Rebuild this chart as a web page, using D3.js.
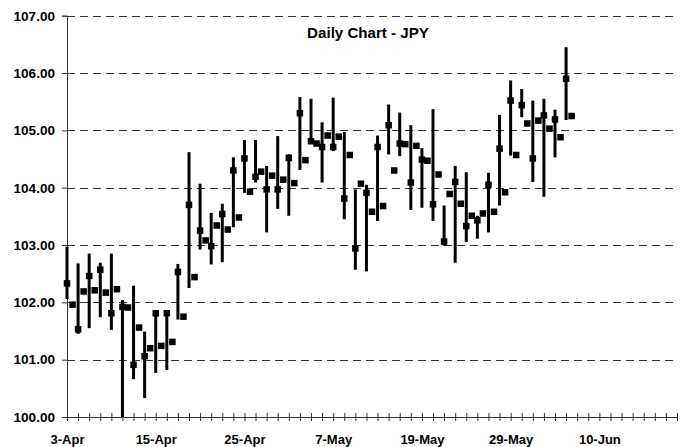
<!DOCTYPE html>
<html>
<head>
<meta charset="utf-8">
<script src="https://cdn.jsdelivr.net/npm/d3@7"></script>
<style>
  body { margin: 0; background: #fff; }
  text { font-family: "Liberation Sans", Arial, sans-serif; font-weight: bold; fill: #000; }
</style>
</head>
<body>
<script>
// trading days on the axis: 3-Apr .. 19-Jun, label every 8th day
var dayCount = 56;
var tickLabels = ['3-Apr', '15-Apr', '25-Apr', '7-May', '19-May', '29-May', '10-Jun'];
var labelEvery = 8;

var yTicks = [100, 101, 102, 103, 104, 105, 106, 107];

// daily range (bar), square on the bar, square just after the bar
var highs = [102.97, 102.68, 102.85, 102.69, 102.85, 102.04, 102.29, 101.49, 101.86, 101.85,
             102.67, 104.62, 104.07, 103.56, 103.72, 104.53, 104.83, 104.83, 104.38, 104.90,
             104.58, 105.58, 105.55, 105.14, 105.57, 104.97, 103.97, 104.05, 104.91, 105.45,
             105.31, 105.09, 104.69, 105.37, 103.69, 104.38, 104.27, 103.51, 104.26, 105.27,
             105.87, 105.72, 105.52, 105.55, 105.36, 106.45];
var lows  = [102.06, 101.45, 101.55, 101.74, 101.52, 100.00, 100.66, 100.33, 100.77, 100.82,
             101.70, 102.25, 102.92, 102.66, 102.70, 103.31, 103.91, 104.09, 103.22, 103.63,
             103.51, 104.31, 104.77, 104.09, 104.64, 103.45, 102.57, 102.54, 103.42, 104.58,
             104.55, 103.61, 103.65, 103.42, 102.99, 102.69, 103.05, 103.11, 103.22, 103.69,
             104.56, 105.23, 104.10, 103.84, 104.53, 105.18];
var opens = [102.33, 101.53, 102.46, 102.57, 101.81, 101.92, 100.91, 101.06, 101.81, 101.81,
             102.53, 103.70, 103.25, 102.98, 103.54, 104.30, 104.51, 104.19, 103.97, 103.97,
             104.52, 105.30, 104.81, 104.71, 104.71, 103.81, 102.94, 103.91, 104.71, 105.09,
             104.77, 104.09, 104.49, 103.71, 103.06, 104.10, 103.33, 103.43, 104.05, 104.68,
             105.52, 105.44, 104.51, 105.26, 105.19, 105.90];
var closes = [101.96, 102.19, 102.21, 102.17, 102.23, 101.91, 101.56, 101.20, 101.24, 101.31,
              101.75, 102.44, 103.08, 103.34, 103.27, 103.48, 103.93, 104.28, 104.21, 104.14,
              104.08, 104.48, 104.77, 104.91, 104.89, 104.57, 104.07, 103.58, 103.68, 104.30,
              104.76, 104.73, 104.47, 104.23, 103.89, 103.72, 103.51, 103.55, 103.58, 103.92,
              104.57, 105.12, 105.17, 105.03, 104.88, 105.25];

var width = 684, height = 447;
var plotLeft = 67, plotRight = 677, plotTop = 15.7, plotBottom = 417;
var sq = 6.5;
var stretch = 1.13;

var svg = d3.select('body').append('svg')
  .attr('width', width)
  .attr('height', height);

var x = d3.scaleLinear().domain([0, dayCount - 1]).range([plotLeft, plotRight]);
var y = d3.scaleLinear().domain([100, 107]).range([plotBottom, plotTop]);

var data = highs.map(function(h, i) {
  return {i: i, high: h, low: lows[i], open: opens[i], close: closes[i]};
});

// dashed gridlines
svg.append('g')
  .selectAll('line')
  .data(yTicks.filter(function(d) { return d > 100; }))
  .enter().append('line')
  .attr('x1', plotLeft).attr('x2', plotRight)
  .attr('y1', function(d) { return Math.round(y(d)) + 0.5; })
  .attr('y2', function(d) { return Math.round(y(d)) + 0.5; })
  .attr('stroke', '#333')
  .attr('stroke-width', 1)
  .attr('stroke-dasharray', '8,5');

// y axis
var yAxis = svg.append('g')
  .attr('transform', `translate(${plotLeft},0)`)
  .call(d3.axisLeft(y).tickValues(yTicks).tickSize(5).tickFormat(d3.format('.2f')));
yAxis.select('.domain').attr('stroke', '#333');
yAxis.selectAll('.tick line').attr('stroke', '#333');
yAxis.selectAll('text')
  .attr('x', 0).attr('dy', '0.36em')
  .attr('transform', `translate(-12,0) scale(${stretch},1)`)
  .style('font-size', '12px');

// x axis, ticks cross the line
var xAxis = svg.append('g')
  .attr('transform', `translate(0,${plotBottom})`)
  .call(d3.axisBottom(x)
    .tickValues(d3.range(dayCount))
    .tickSizeInner(4).tickSizeOuter(0)
    .tickFormat(function(d) { return d % labelEvery === 0 ? tickLabels[d / labelEvery] : ''; }));
xAxis.select('.domain').attr('stroke', '#333');
xAxis.selectAll('.tick line').attr('y1', -4).attr('y2', 4).attr('stroke', '#333');
xAxis.selectAll('text')
  .attr('y', 0).attr('dy', 0)
  .attr('transform', 'translate(0,27)')
  .style('font-size', '13px');

// high-low bars
svg.append('g')
  .selectAll('line')
  .data(data)
  .enter().append('line')
  .attr('x1', function(d) { return x(d.i); })
  .attr('x2', function(d) { return x(d.i); })
  .attr('y1', function(d) { return y(d.high); })
  .attr('y2', function(d) { return y(d.low); })
  .attr('stroke', '#000')
  .attr('stroke-width', 3);

// square on each bar
svg.append('g')
  .selectAll('rect')
  .data(data)
  .enter().append('rect')
  .attr('x', function(d) { return x(d.i) - sq / 2; })
  .attr('y', function(d) { return y(d.open) - sq / 2; })
  .attr('width', sq).attr('height', sq)
  .attr('fill', '#000');

// square half a day later
svg.append('g')
  .selectAll('rect')
  .data(data)
  .enter().append('rect')
  .attr('x', function(d) { return x(d.i + 0.5) - sq / 2; })
  .attr('y', function(d) { return y(d.close) - sq / 2; })
  .attr('width', sq).attr('height', sq)
  .attr('fill', '#000');

// title
svg.append('text')
  .attr('transform', `translate(368,38) scale(1.08,1)`)
  .attr('text-anchor', 'middle')
  .style('font-size', '14px')
  .text('Daily Chart - JPY');
</script>
</body>
</html>
